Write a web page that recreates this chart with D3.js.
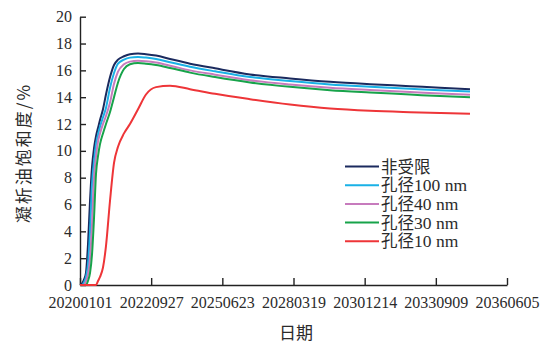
<!doctype html>
<meta charset="utf-8">
<script src="https://d3js.org/d3.v7.min.js"></script>
<style>
  body { margin: 0; background: #fff; }
  text { fill: #2b2b2b; }
</style>
<body></body>
<script>

var width = 550;
var height = 344;

// days after 2020-01-01
var dayOffsets = [0, 28, 56, 84, 112, 141, 169, 197, 225, 253, 281, 323, 365, 422, 478, 534,
  618, 702, 815, 927, 1068, 1265, 1546, 1897, 2389, 2951, 3513, 4075, 4637, 5058, 5480];

var seriesNames = ["非受限", "孔径100 nm", "孔径40 nm", "孔径30 nm", "孔径10 nm"];
var seriesColors = ["#1b2a5e", "#19b1e6", "#c77bbd", "#17a34a", "#ee3538"];

var unlimited = [0, 0.1, 0.4, 0.9, 3.0, 6.3, 8.8, 10.2, 11.1, 11.7, 12.3, 13.1, 14.2, 15.5, 16.4, 16.8,
  17.05, 17.2, 17.25, 17.2, 17.1, 16.85, 16.5, 16.15, 15.7, 15.4, 15.15, 14.97, 14.82, 14.7, 14.6];
var pore100 = [0, 0, 0.2, 0.6, 1.5, 4.0, 7.5, 9.2, 10.5, 11.2, 11.8, 12.5, 13.2, 14.7, 15.8, 16.5,
  16.8, 16.95, 17.0, 16.95, 16.85, 16.6, 16.27, 15.93, 15.5, 15.2, 14.95, 14.78, 14.63, 14.52, 14.43];
var pore40 = [0, 0, 0, 0.3, 0.8, 2.0, 4.5, 8.0, 9.6, 10.7, 11.3, 12.0, 12.6, 13.6, 15.0, 15.9,
  16.45, 16.65, 16.72, 16.68, 16.58, 16.35, 16.0, 15.68, 15.27, 14.95, 14.7, 14.53, 14.38, 14.27, 14.18];
var pore30 = [0, 0, 0, 0, 0.3, 0.9, 2.3, 5.0, 8.3, 9.6, 10.5, 11.3, 12.0, 12.9, 14.0, 15.1,
  16.1, 16.45, 16.55, 16.5, 16.4, 16.18, 15.83, 15.5, 15.1, 14.77, 14.52, 14.35, 14.2, 14.08, 14.0];
var pore10 = [0, 0, 0, 0, 0, 0, 0, 0, 0, 0.3, 0.6, 1.3, 2.9, 6.3, 9.1, 10.3,
  11.3, 12.0, 13.1, 14.2, 14.75, 14.85, 14.6, 14.25, 13.85, 13.45, 13.15, 12.98, 12.88, 12.82, 12.76];

var seriesValues = [unlimited, pore100, pore40, pore30, pore10];

var xTickLabels = ["20200101", "20220927", "20250623", "20280319", "20301214", "20330909", "20360605"];
var yTicks = [0, 2, 4, 6, 8, 10, 12, 14, 16, 18, 20];

var parseDate = d3.timeParse("%Y%m%d");
var startDate = parseDate("20200101");

var svg = d3.select("body")
        .append("svg")
        .attr("width", width)
        .attr("height", height);

var x = d3.scaleTime()
        .domain([startDate, parseDate("20360605")])
        .range([80, 507]);

var y = d3.scaleLinear()
        .domain([0, 20])
        .range([285, 16.7]);

var xAxis = d3.axisBottom(x)
        .tickValues(xTickLabels.map(parseDate))
        .tickFormat(d3.timeFormat("%Y%m%d"))
        .tickSizeInner(-7)
        .tickSizeOuter(0)
        .tickPadding(12);

var yAxis = d3.axisLeft(y)
        .tickValues(yTicks)
        .tickSizeInner(-6)
        .tickSizeOuter(0)
        .tickPadding(8);

var gx = svg.append("g")
        .attr("transform", "translate(0,285)")
        .call(xAxis);

var gy = svg.append("g")
        .attr("transform", "translate(80,0)")
        .call(yAxis);

[gx, gy].forEach(function(g){
    g.selectAll("path, line").style("stroke", "#222").style("stroke-width", 1.4);
    g.selectAll("text")
            .style("font-family", "'Liberation Serif', serif")
            .style("font-size", "16px")
            .style("fill", "#2b2b2b");
});

var line = d3.line()
        .x(function(d, i){ return x(d3.timeDay.offset(startDate, dayOffsets[i])); })
        .y(function(d){ return y(d); })
        .curve(d3.curveMonotoneX);

seriesValues.forEach(function(vals, k){
    svg.append("path")
            .attr("d", line(vals))
            .style("fill", "none")
            .style("stroke", seriesColors[k])
            .style("stroke-width", 2);
});

// axis titles
svg.append("text")
        .attr("x", 296)
        .attr("y", 339)
        .attr("text-anchor", "middle")
        .style("font-family", "'Noto Sans CJK SC'")
        .style("font-size", "17px")
        .text("日期");

svg.append("text")
        .attr("transform", "translate(30,153) rotate(-90)")
        .attr("text-anchor", "middle")
        .style("font-family", "'Noto Sans CJK SC'")
        .style("font-size", "17px")
        .style("letter-spacing", "2px")
        .text("凝析油饱和度/%");

// legend
var legend = svg.append("g");
seriesNames.forEach(function(name, k){
    var ly = 166.5 + k * 18.7;
    legend.append("line")
            .attr("x1", 345).attr("x2", 379)
            .attr("y1", ly).attr("y2", ly)
            .style("stroke", seriesColors[k])
            .style("stroke-width", 2);
    var t = legend.append("text")
            .attr("x", 381)
            .attr("y", ly + 6)
            .style("font-size", "16.5px");
    var m = name.match(/^([^\d]+)(.*)$/);
    t.append("tspan").style("font-family", "'Noto Sans CJK SC'").text(m[1]);
    if (m[2]) t.append("tspan").style("font-family", "'Liberation Serif', serif").style("font-size", "17.5px").text(m[2]);
});

</script>
